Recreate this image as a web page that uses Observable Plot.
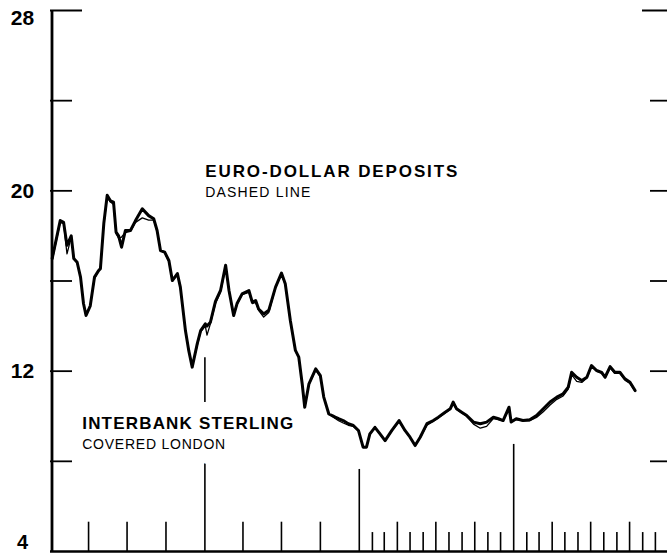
<!DOCTYPE html>
<html>
<head>
<meta charset="utf-8">
<script src="https://cdn.jsdelivr.net/npm/d3@7"></script>
<script src="https://cdn.jsdelivr.net/npm/@observablehq/plot@0.6"></script>
<style>
  html, body { margin: 0; padding: 0; background: #fff; }
  #chart svg { display: block; }
</style>
</head>
<body>
<div id="chart"></div>
<script>
// ---- Data ----
const dates = [
  "1981-01-05","1981-01-24","1981-02-01","1981-02-09","1981-02-19","1981-02-25","1981-03-05","1981-03-13",
  "1981-03-20","1981-03-26","1981-04-05","1981-04-15","1981-04-25","1981-04-29","1981-05-07","1981-05-15",
  "1981-05-23","1981-05-30","1981-06-05","1981-06-11","1981-06-18","1981-06-27","1981-07-09","1981-07-21",
  "1981-08-06","1981-08-21","1981-09-02","1981-09-10","1981-09-18","1981-09-28","1981-10-08","1981-10-16",
  "1981-10-28","1981-11-04","1981-11-16","1981-11-24","1981-12-02","1981-12-14","1981-12-22","1982-01-02",
  "1982-01-06","1982-01-14","1982-01-26","1982-02-07","1982-02-19","1982-02-27","1982-03-10","1982-03-18",
  "1982-03-30","1982-04-15","1982-04-23","1982-05-01","1982-05-08","1982-05-20","1982-06-01","1982-06-17",
  "1982-07-01","1982-07-10","1982-07-22","1982-08-03","1982-08-11","1982-08-19","1982-08-25","1982-09-04",
  "1982-09-20","1982-10-01","1982-10-09","1982-10-21","1982-10-29","1982-11-05","1982-11-13","1982-11-24",
  "1982-12-06","1982-12-18","1982-12-30","1983-01-10","1983-01-18","1983-01-26","1983-02-07","1983-02-19",
  "1983-03-03","1983-03-19","1983-04-05","1983-04-19","1983-05-01","1983-05-13","1983-05-25","1983-06-10",
  "1983-06-25","1983-07-07","1983-07-23","1983-08-04","1983-08-11","1983-08-19","1983-08-31","1983-09-12",
  "1983-09-28","1983-10-14","1983-10-29","1983-11-14","1983-11-26","1983-12-07","1983-12-21","1983-12-26",
  "1984-01-07","1984-01-23","1984-02-08","1984-02-24","1984-03-11","1984-03-27","1984-04-12","1984-04-27",
  "1984-05-09","1984-05-17","1984-05-29","1984-06-10","1984-06-22","1984-07-03","1984-07-15","1984-07-27",
  "1984-08-04","1984-08-16","1984-08-27","1984-09-08","1984-09-20","1984-10-02","1984-10-14"
];
// Interbank sterling, covered London (solid line)
const sterling = [
  17.0,18.68,18.6,17.58,18.0,17.0,16.83,16.17,
  15.0,14.47,14.9,16.17,16.47,16.55,18.55,19.8,
  19.55,19.5,18.17,18.0,17.5,18.24,18.24,18.68,
  19.2,18.9,18.76,18.24,17.35,17.28,16.9,16.02,
  16.33,15.73,13.8,12.9,12.18,13.22,13.8,14.1,
  14.0,14.17,15.1,15.58,16.7,15.58,14.47,15.0,
  15.43,15.58,15.06,15.13,14.76,14.54,14.7,15.73,
  16.35,15.88,14.25,12.92,12.62,11.44,10.4,11.44,
  12.1,11.8,10.85,10.1,10.03,9.96,9.89,9.81,
  9.67,9.59,9.37,8.63,8.63,9.22,9.51,9.22,
  8.92,9.37,9.81,9.37,9.07,8.7,9.07,9.67,
  9.81,9.96,10.18,10.33,10.63,10.33,10.18,10.03,
  9.74,9.67,9.74,9.96,9.89,9.81,10.4,9.74,
  9.89,9.81,9.84,10.03,10.33,10.63,10.85,11.0,
  11.29,11.95,11.73,11.59,11.73,12.25,12.03,11.95,
  11.73,12.2,11.95,11.95,11.66,11.51,11.14
];
// Euro-dollar deposits (thin "dashed" line)
const euro = [
  16.9,18.6,18.55,17.2,17.95,17.0,16.8,16.15,
  15.0,14.5,14.9,16.1,16.45,16.55,18.5,19.7,
  19.5,19.4,18.1,17.9,17.95,18.15,18.2,18.6,
  18.8,18.7,18.7,18.2,17.35,17.25,16.85,16.0,
  16.3,15.7,13.8,12.9,12.2,13.15,13.75,14.0,
  13.6,14.1,15.0,15.5,16.6,15.55,14.45,14.95,
  15.4,15.5,15.0,15.05,14.7,14.4,14.6,15.7,
  16.3,15.85,14.2,12.9,12.6,11.45,10.45,11.4,
  12.05,11.75,10.85,10.1,10.0,9.9,9.8,9.7,
  9.6,9.55,9.35,8.65,8.65,9.2,9.5,9.2,
  8.9,9.35,9.75,9.35,9.05,8.7,9.05,9.6,
  9.78,9.92,10.15,10.3,10.55,10.3,10.15,10.0,
  9.65,9.47,9.55,9.9,9.85,9.8,10.3,9.75,
  9.85,9.8,9.8,9.95,10.2,10.5,10.75,10.9,
  11.2,11.85,11.55,11.5,11.7,12.2,12.0,11.9,
  11.7,12.15,11.9,11.9,11.6,11.45,11.1
];

// Axis ticks
const yTicks = [8, 12, 16, 20, 24];
const yTopTick = [28];
const yLabels = [28, 20, 12, 4];
const yearTicks = ["1982-01-01", "1983-01-01", "1984-01-01"];
const yearTickTops = [12.6, 7.64, 8.75];
const quarterTicks = [
  "1981-04-01","1981-07-01","1981-10-01",
  "1982-04-01","1982-07-01","1982-10-01",
  "1983-04-01","1983-07-01","1983-10-01",
  "1984-04-01","1984-07-01","1984-10-01"
];
const monthTicks = [
  "1983-02-01","1983-03-01","1983-05-01","1983-06-01","1983-08-01","1983-09-01","1983-11-01","1983-12-01",
  "1984-02-01","1984-03-01","1984-05-01","1984-06-01","1984-08-01","1984-09-01","1984-11-01","1984-12-01"
];
const xStart = "1981-01-01";
const xEnd = "1985-01-01";

// Labels
const labelsEuro = [
  {date: "1982-01-02", value: 20.86, text: "EURO-DOLLAR DEPOSITS", bold: true},
  {date: "1982-01-02", value: 19.93, text: "DASHED LINE", bold: false}
];
const labelsSterling = [
  {date: "1981-03-17", value: 9.66, text: "INTERBANK STERLING", bold: true},
  {date: "1981-03-17", value: 8.75, text: "COVERED LONDON", bold: false}
];
const textLengths = {
  "EURO-DOLLAR DEPOSITS": 252,
  "DASHED LINE": 105,
  "INTERBANK STERLING": 211,
  "COVERED LONDON": 143
};

// ---- Build tables ----
const parse = d3.utcParse("%Y-%m-%d");
const series = dates.map((d, i) => ({date: parse(d), sterling: sterling[i], euro: euro[i]}));
const yearRows = yearTicks.map((d, i) => ({date: parse(d), top: yearTickTops[i]}));
const lab = arr => arr.map(d => ({...d, date: parse(d.date)}));

const font = "'Liberation Sans', Arial, Helvetica, sans-serif";
const labelMarks = (rows, halo) => [
  Plot.text(rows.filter(d => d.bold), {x: "date", y: "value", text: "text", textAnchor: "start", lineAnchor: "middle", fontSize: 17, fontWeight: "bold",
    ...(halo ? {fill: "#fff", stroke: "#fff", strokeWidth: 30} : {fill: "#000"})}),
  Plot.text(rows.filter(d => !d.bold), {x: "date", y: "value", text: "text", textAnchor: "start", lineAnchor: "middle", fontSize: 14,
    ...(halo ? {fill: "#fff", stroke: "#fff", strokeWidth: 30} : {fill: "#000"})})
];

const chart = Plot.plot({
  width: 667,
  height: 553,
  marginLeft: 50,
  marginRight: 0,
  marginTop: 10,
  marginBottom: 2,
  style: {fontFamily: font, background: "#fff", color: "#000", overflow: "visible"},
  x: {type: "utc", domain: [parse(xStart), parse(xEnd)], range: [50, 668], axis: null},
  y: {domain: [4, 28], range: [551, 10], axis: null},
  marks: [
    // bottom ticks
    Plot.ruleX(quarterTicks.map(parse), {x: d => d, y1: 4, y2: 5.3, stroke: "#000", strokeWidth: 1.6}),
    Plot.ruleX(monthTicks.map(parse), {x: d => d, y1: 4, y2: 4.84, stroke: "#000", strokeWidth: 1.6}),
    Plot.ruleX(yearRows, {x: "date", y1: 4, y2: "top", stroke: "#000", strokeWidth: 1.6}),
    // y ticks left and right (inward)
    Plot.tickY(yTicks, {y: d => d, insetRight: 595, stroke: "#000", strokeWidth: 1.8}),
    Plot.tickY(yTopTick, {y: d => d, insetRight: 585, stroke: "#000", strokeWidth: 2}),
    Plot.tickY(yTicks, {y: d => d, insetLeft: 600, stroke: "#000", strokeWidth: 1.8}),
    Plot.tickY(yTopTick, {y: d => d, insetLeft: 592, stroke: "#000", strokeWidth: 2}),
    // axis lines
    Plot.ruleX([parse(xStart)], {x: d => d, y1: 4, y2: 28, stroke: "#000", strokeWidth: 2.8, dx: 1.5}),
    Plot.ruleX([parse(xEnd)], {x: d => d, y1: 4, y2: 28, stroke: "#000", strokeWidth: 2.8}),
    Plot.ruleY([4], {y: d => d, stroke: "#000", strokeWidth: 2.4}),
    // y labels
    Plot.text(yLabels.filter(d => d === 28), {y: d => d, text: d => String(d), frameAnchor: "left", dx: -28, textAnchor: "middle", lineAnchor: "top", fontSize: 21, fontWeight: "bold", fill: "#000"}),
    Plot.text(yLabels.filter(d => d !== 28 && d !== 4), {y: d => d, text: d => String(d), frameAnchor: "left", dx: -28, textAnchor: "middle", lineAnchor: "middle", fontSize: 21, fontWeight: "bold", fill: "#000"}),
    Plot.text(yLabels.filter(d => d === 4), {y: d => d, text: d => String(d), frameAnchor: "left", dx: -28, dy: -3, textAnchor: "middle", lineAnchor: "bottom", fontSize: 20, fontWeight: "bold", fill: "#000"}),
    // series labels (halo first, then text)
    ...labelMarks(lab(labelsSterling), true),
    ...labelMarks(lab(labelsSterling), false),
    ...labelMarks(lab(labelsEuro), false),
    // lines
    Plot.line(series, {x: "date", y: "euro", stroke: "#000", strokeWidth: 1.3}),
    Plot.line(series, {x: "date", y: "sterling", stroke: "#000", strokeWidth: 3, strokeLinejoin: "round"})
  ]
});

d3.select(chart).selectAll("text").each(function() {
  const t = this.textContent;
  if (textLengths[t]) {
    this.setAttribute("textLength", textLengths[t]);
    this.setAttribute("lengthAdjust", "spacing");
  }
});

document.getElementById("chart").appendChild(chart);
</script>
</body>
</html>
